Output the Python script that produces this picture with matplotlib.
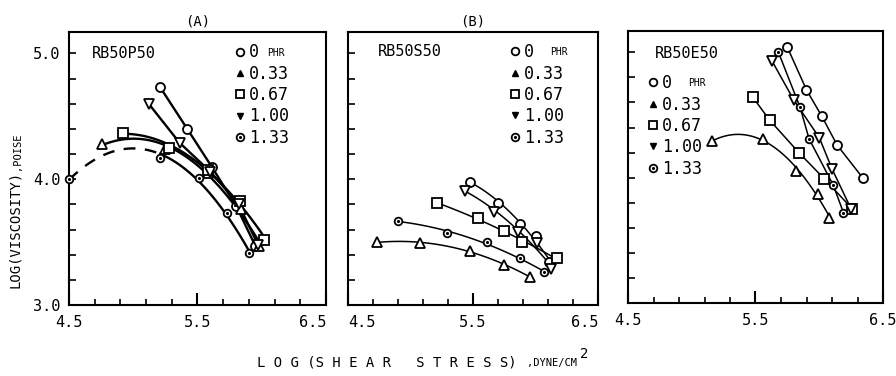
import numpy as np
import matplotlib.pyplot as plt
from matplotlib.lines import Line2D

plt.rcParams['font.family'] = ['DejaVu Sans Mono']

levels = ["0", "0.33", "0.67", "1.00", "1.33"]
markers = ["o", "^", "s", "v", "o"]

# RB50P50 : log shear stress / log viscosity per filler level
stress_p = [
    [5.21, 5.42, 5.61, 5.80, 5.95],
    [4.76, 5.25, 5.58, 5.84, 5.98],
    [4.92, 5.28, 5.58, 5.83, 6.02],
    [5.12, 5.36, 5.60, 5.82, 5.97],
    [4.50, 5.21, 5.51, 5.73, 5.90],
]
visc_p = [
    [4.73, 4.40, 4.10, 3.79, 3.47],
    [4.28, 4.24, 4.05, 3.76, 3.47],
    [4.37, 4.25, 4.07, 3.83, 3.52],
    [4.60, 4.29, 4.06, 3.80, 3.48],
    [4.00, 4.17, 4.01, 3.73, 3.41],
]

# RB50S50
stress_s = [
    [5.48, 5.70, 5.88, 6.00, 6.11],
    [4.73, 5.08, 5.48, 5.75, 5.96],
    [5.21, 5.54, 5.75, 5.89, 6.17],
    [5.44, 5.67, 5.86, 6.01, 6.12],
    [4.90, 5.29, 5.61, 5.88, 6.07],
]
visc_s = [
    [3.98, 3.81, 3.64, 3.55, 3.34],
    [3.50, 3.49, 3.43, 3.32, 3.22],
    [3.81, 3.69, 3.59, 3.50, 3.37],
    [3.91, 3.74, 3.58, 3.49, 3.29],
    [3.67, 3.57, 3.50, 3.37, 3.26],
]

# RB50E50
stress_e = [
    [5.75, 5.90, 6.02, 6.14, 6.34],
    [5.16, 5.56, 5.82, 5.99, 6.08],
    [5.48, 5.61, 5.84, 6.04, 6.26],
    [5.63, 5.80, 6.00, 6.10, 6.25],
    [5.68, 5.85, 5.92, 6.11, 6.19],
]
visc_e = [
    [5.04, 4.70, 4.49, 4.26, 4.00],
    [4.29, 4.31, 4.05, 3.87, 3.68],
    [4.64, 4.46, 4.20, 3.99, 3.75],
    [4.93, 4.62, 4.32, 4.07, 3.75],
    [5.00, 4.56, 4.31, 3.94, 3.72],
]


def draw_series(ax, xs, ys, i, fit=False, dashed_head=False, lw=1.2):
    xs = np.array(xs)
    ys = np.array(ys)
    if fit:
        # smooth quadratic fit through the measured points
        c = np.polyfit(xs, ys, 2)
        if dashed_head:
            xh = np.linspace(xs[0], xs[1], 40)
            ax.plot(xh, np.polyval(c, xh), color='k', lw=lw, ls=(0, (5, 4)))
            xt = np.linspace(xs[1], xs[-1], 60)
        else:
            xt = np.linspace(xs[0], xs[-1], 80)
        ax.plot(xt, np.polyval(c, xt), color='k', lw=lw)
    else:
        ax.plot(xs, ys, color='k', lw=lw)
    ms = 5.5 if i == 4 else 6.5
    ax.plot(xs, ys, ls='none', marker=markers[i], ms=ms, mfc='white',
            mec='k', mew=1.3, zorder=3, clip_on=False)
    if i == 4:
        ax.plot(xs, ys, ls='none', marker='.', ms=2.5, color='k', zorder=4,
                clip_on=False)


def legend_handles():
    hs = []
    for i, m in enumerate(markers):
        if i in (1, 3):
            hs.append(Line2D([], [], ls='none', marker=m, ms=5, color='k'))
        elif i == 4:
            hs.append((Line2D([], [], ls='none', marker='o', ms=5.5, mfc='white', mec='k', mew=1.3),
                       Line2D([], [], ls='none', marker='.', ms=2.5, color='k')))
        else:
            hs.append(Line2D([], [], ls='none', marker=m, ms=5.5, mfc='white', mec='k', mew=1.3))
    return hs


def style_axes(ax, ylabels=True, first_ha='center', last_ha='center'):
    ax.set_xlim(4.5, 6.5)
    ax.set_ylim(3.0, 5.17)
    ax.set_xticks([4.5, 5.5, 6.5])
    ax.set_xticks(np.arange(4.5, 6.51, 0.2), minor=True)
    ax.set_yticks([3.0, 4.0, 5.0])
    ax.set_yticks(np.arange(3.0, 5.01, 0.2), minor=True)
    ax.set_xticklabels(["4.5", "5.5", "6.5"])
    if ylabels:
        ax.set_yticklabels(["3.0", "4.0", "5.0"])
    else:
        ax.set_yticklabels([])
    ax.tick_params(axis='x', which='major', direction='in', length=9, width=1.5,
                   pad=7, labelsize=11, top=False)
    ax.tick_params(axis='x', which='minor', direction='in', length=4, width=1.2, top=False)
    ax.tick_params(axis='y', which='both', direction='in', length=5, width=1.2,
                   pad=6, labelsize=11, right=False)
    lbls = ax.get_xticklabels()
    lbls[0].set_ha(first_ha)
    lbls[-1].set_ha(last_ha)
    for s in ax.spines.values():
        s.set_linewidth(1.5)


fig = plt.figure(figsize=(8.96, 3.76), dpi=100)
W, H = 896.0, 376.0
ax1 = fig.add_axes([69 / W, 1 - 305 / H, 257 / W, 273 / H])
ax2 = fig.add_axes([348 / W, 1 - 305 / H, 250 / W, 273 / H])
ax3 = fig.add_axes([628 / W, 1 - 303 / H, 255 / W, 272 / H])

fits_p = [False, True, True, False, True]
for i in range(5):
    draw_series(ax1, stress_p[i], visc_p[i], i, fit=fits_p[i],
                dashed_head=(i == 4), lw=1.7)
for i in range(5):
    draw_series(ax2, stress_s[i], visc_s[i], i, fit=True, lw=1.1)
fits_e = [False, True, False, False, False]
for i in range(5):
    draw_series(ax3, stress_e[i], visc_e[i], i, fit=fits_e[i], lw=1.1)

style_axes(ax1, True, 'center', 'right')
style_axes(ax2, False, 'left', 'right')
style_axes(ax3, False, 'center', 'center')

names = ["RB50P50", "RB50S50", "RB50E50"]
name_pos = [(0.089, 0.923), (0.12, 0.927), (0.106, 0.919)]
leg_pos = [(0.638, 0.958), (0.640, 0.959), (0.071, 0.841)]
phr_pos = [(0.77, 0.923), (0.808, 0.927), (0.235, 0.809)]
for ax, nm, npos, lpos, ppos in zip([ax1, ax2, ax3], names, name_pos, leg_pos, phr_pos):
    ax.text(npos[0], npos[1], nm, transform=ax.transAxes, fontsize=11,
            va='center', ha='left')
    ax.legend(legend_handles(), levels, loc='upper left', bbox_to_anchor=lpos,
              frameon=False, borderpad=0, borderaxespad=0, handlelength=0.8,
              handletextpad=0.15, labelspacing=0.2, fontsize=12)
    ax.text(ppos[0], ppos[1], "PHR", transform=ax.transAxes, fontsize=7,
            va='center', ha='left')

ax1.set_title("(A)", fontsize=10, pad=5)
ax2.set_title("(B)", fontsize=10, pad=5)

# axis titles
fig.text(15 / W, 1 - 288 / H, "LOG(VISCOSITY)", rotation=90, fontsize=10,
         ha='center', va='bottom')
fig.text(17 / W, 1 - 170 / H, ",POISE", rotation=90, fontsize=7.5,
         ha='center', va='bottom')
fig.text(257 / W, 1 - 362 / H, "L O G (S H E A R   S T R E S S)", fontsize=10,
         ha='left', va='center')
fig.text(577 / W, 1 - 363 / H, ",DYNE/CM", fontsize=7.5, ha='right', va='center')
fig.text(580 / W, 1 - 354 / H, "2", fontsize=10, ha='left', va='center')

fig.savefig('out.png', dpi=100)
